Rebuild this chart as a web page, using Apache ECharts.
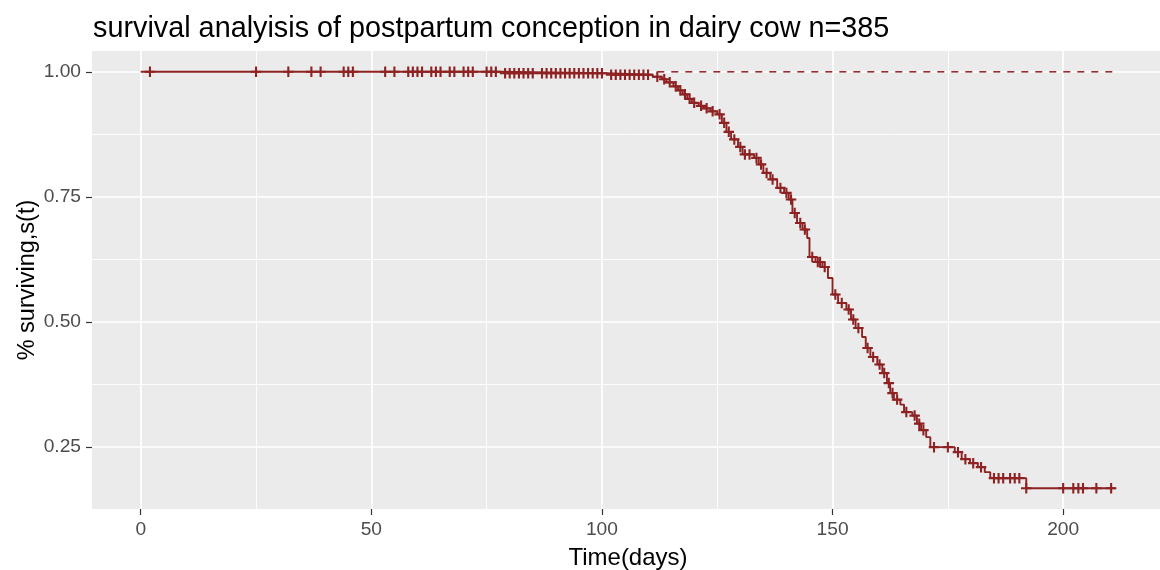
<!DOCTYPE html>
<html>
<head>
<meta charset="utf-8">
<script src="https://cdn.jsdelivr.net/npm/echarts@6.0.0/dist/echarts.min.js"></script>
<style type="text/css">
    html, body { margin: 0; padding: 0; background: #fff; }
    #km_chart { width: 1160px; height: 570px; }
</style>
</head>
<body>
<div id="km_chart"></div>

<script>
    // Kaplan-Meier steps: survival holds from stepTimes[i] until the next time
    var stepTimes = [0, 78, 101, 111, 113, 114, 115.5, 116.5, 117.5, 118.5,
        119.5, 121, 122, 123.5, 125, 126, 127, 128, 129.5, 130.5,
        133, 134, 135, 136.5, 138, 139.5, 140.5, 141.3, 142.3, 143.5,
        144.5, 145, 146.3, 147.8, 149, 150, 151.2, 153, 154, 155,
        156.4, 157.2, 158.2, 159.7, 160.8, 161.8, 162.5, 163.3, 164.7, 165.5,
        167.3, 168.3, 169.2, 170.3, 171.2, 176.5, 178, 179.8, 181.5, 183,
        184.2, 192, 211.3];
    var stepSurv = [1, 0.997, 0.994, 0.99, 0.985, 0.979, 0.971, 0.963, 0.955, 0.946,
        0.938, 0.932, 0.927, 0.921, 0.915, 0.898, 0.88, 0.865, 0.85, 0.835,
        0.828, 0.815, 0.798, 0.785, 0.768, 0.758, 0.745, 0.718, 0.698, 0.685,
        0.668, 0.63, 0.62, 0.61, 0.588, 0.555, 0.538, 0.525, 0.505, 0.488,
        0.47, 0.448, 0.43, 0.415, 0.398, 0.378, 0.358, 0.345, 0.335, 0.32,
        0.313, 0.297, 0.284, 0.27, 0.25, 0.24, 0.226, 0.218, 0.21, 0.2,
        0.188, 0.168, 0.168];

    // censored cows (the "+" marks), they sit on the curve
    var censorTimes = [2, 25, 32, 37, 39, 44, 45, 46, 53, 55, 58, 59, 60, 61, 63, 64, 65, 67, 68,
        70, 71, 72, 75, 76, 77, 79, 80, 81, 82, 83, 84, 85, 87, 88, 89, 90, 91, 92, 93,
        94, 95, 96, 97, 98, 99, 100, 102, 103, 104, 105, 106, 107, 108, 109, 110,
        112, 113.5, 114.7, 116, 117, 118, 119, 120, 121.5, 122.7, 124, 125.5, 126.5, 127.5,
        128.7, 130, 131, 132, 133.5, 134.5, 135.7, 137, 138.7, 140, 141, 141.8, 143, 144,
        145.6, 146.8, 147.3, 148.3, 150.6, 152, 153.5, 154.5, 155.6, 157.6, 158.8, 160.2,
        161.2, 162.2, 163, 164, 166, 167.8, 168.8, 169.7, 172, 175, 177.2, 178.8, 180.5,
        182.2, 185, 186, 187, 188.5, 189.5, 190.5, 192, 200, 202.2, 203.3, 204.3, 207.2, 210.4];

    // dashed reference line at the top
    var dashTimes = [112, 211.3];
    var dashSurv = [1, 1];

    var xTickLabels = [0, 50, 100, 150, 200];
    var yTickLabels = ['0.25', '0.50', '0.75', '1.00'];

    var lineColor = '#8e2222';
    var fontName = 'Liberation Sans';

    function survAt(t) {
        var s = stepSurv[0];
        for (var i = 0; i < stepTimes.length; i++) {
            if (stepTimes[i] <= t) s = stepSurv[i];
        }
        return s;
    }

    // ggplot like 5% expansion of the data range
    var tLo = stepTimes[0], tHi = stepTimes[stepTimes.length - 1];
    var sLo = Math.min.apply(null, stepSurv), sHi = 1;
    var xMin = tLo - 0.05 * (tHi - tLo), xMax = tHi + 0.05 * (tHi - tLo);
    var yMin = sLo - 0.05 * (sHi - sLo), yMax = sHi + 0.05 * (sHi - sLo);

    var W = 1160, H = 570;
    var pLeft = 92, pRight = -4, pTop = 51, pBottom = 61;
    var pxPerDay = (W - pLeft - pRight) / (xMax - xMin);
    var pxPerUnit = (H - pTop - pBottom) / (yMax - yMin);

    // helper grids that share the panel scale but start at 0 so ticks land on round values
    var g1Left = pLeft + (0 - xMin) * pxPerDay;
    var g1Right = W - (g1Left + 250 * pxPerDay);
    var y0px = (H - pBottom) + yMin * pxPerUnit;
    var g2Bottom = H - y0px;
    var g2Top = (H - pBottom) - (1.25 - yMin) * pxPerUnit;

    var stepData = stepTimes.map(function (t, i) { return [t, stepSurv[i]]; });
    var censorData = censorTimes.map(function (t) { return [t, survAt(t)]; });
    var dashData = dashTimes.map(function (t, i) { return [t, dashSurv[i]]; });

    var hidden = {
        axisLine: {show: false}, axisTick: {show: false},
        axisLabel: {show: false}, splitLine: {show: false}
    };

    var chart = echarts.init(document.getElementById('km_chart'));
    var option = {
        animation: false,
        textStyle: {fontFamily: fontName},
        title: {
            text: 'survival analyisis of postpartum conception in dairy cow n=385',
            left: 93,
            top: 15,
            padding: 0,
            textStyle: {fontSize: 28.8, fontWeight: 'normal', color: '#000', fontFamily: fontName}
        },
        grid: [
            {left: pLeft, right: pRight, top: pTop, bottom: pBottom, show: true, outerBoundsMode: 'none',
                backgroundColor: '#ebebeb', borderWidth: 0, z: -1},
            {left: g1Left, right: g1Right, top: pTop, bottom: pBottom, outerBoundsMode: 'none'},
            {left: pLeft, right: pRight, top: g2Top, bottom: g2Bottom, outerBoundsMode: 'none'}
        ],
        xAxis: [
            Object.assign({gridIndex: 0, type: 'value', min: xMin, max: xMax,
                name: 'Time(days)', nameLocation: 'middle', nameGap: 37,
                nameTextStyle: {fontSize: 24, color: '#000', fontFamily: fontName}}, hidden),
            {
                gridIndex: 1, type: 'value', min: 0, max: 250, interval: 50,
                axisLine: {show: false},
                axisTick: {show: true, length: 6, lineStyle: {color: '#333', width: 1.2}},
                axisLabel: {
                    margin: 11, fontSize: 19.2, color: '#4d4d4d', fontFamily: fontName,
                    formatter: function (v) { return xTickLabels.indexOf(v) >= 0 ? String(v) : ''; }
                },
                splitLine: {show: true, lineStyle: {color: '#fff', width: 1.7}},
                minorTick: {show: false, splitNumber: 2},
                minorSplitLine: {show: true, lineStyle: {color: '#fff', width: 0.9}}
            },
            {gridIndex: 2, type: 'value', min: 0, max: 1, show: false}
        ],
        yAxis: [
            Object.assign({gridIndex: 0, type: 'value', min: yMin, max: yMax,
                name: '% surviving,s(t)', nameLocation: 'middle', nameGap: 52, nameRotate: 90,
                nameTextStyle: {fontSize: 23.5, color: '#000', fontFamily: fontName}}, hidden),
            {gridIndex: 1, type: 'value', min: 0, max: 1, show: false},
            {
                gridIndex: 2, type: 'value', min: 0, max: 1.25, interval: 0.25,
                axisLine: {show: false},
                axisTick: {show: true, length: 6, lineStyle: {color: '#333', width: 1.2}},
                axisLabel: {
                    margin: 11, fontSize: 19.2, color: '#4d4d4d', fontFamily: fontName,
                    showMinLabel: false, showMaxLabel: false,
                    formatter: function (v) {
                        var s = v.toFixed(2);
                        return yTickLabels.indexOf(s) >= 0 ? s : '';
                    }
                },
                splitLine: {show: true, lineStyle: {color: '#fff', width: 1.7}},
                minorTick: {show: false, splitNumber: 2},
                minorSplitLine: {show: true, lineStyle: {color: '#fff', width: 0.9}}
            }
        ],
        series: [
            {
                type: 'line', xAxisIndex: 0, yAxisIndex: 0, data: dashData,
                symbol: 'none', silent: true, z: 3,
                lineStyle: {color: lineColor, width: 1.5, type: [7, 7]}
            },
            {
                type: 'line', xAxisIndex: 0, yAxisIndex: 0, data: stepData, step: 'end',
                symbol: 'none', silent: true, z: 4,
                lineStyle: {color: lineColor, width: 1.9}
            },
            {
                type: 'scatter', xAxisIndex: 0, yAxisIndex: 0, data: censorData,
                symbol: 'path://M4,0H6V10H4Z M0,4H10V6H0Z',
                symbolSize: 10.5, silent: true, z: 5,
                itemStyle: {color: lineColor, opacity: 1}
            }
        ]
    };
    chart.setOption(option);
</script>
</body>
</html>
